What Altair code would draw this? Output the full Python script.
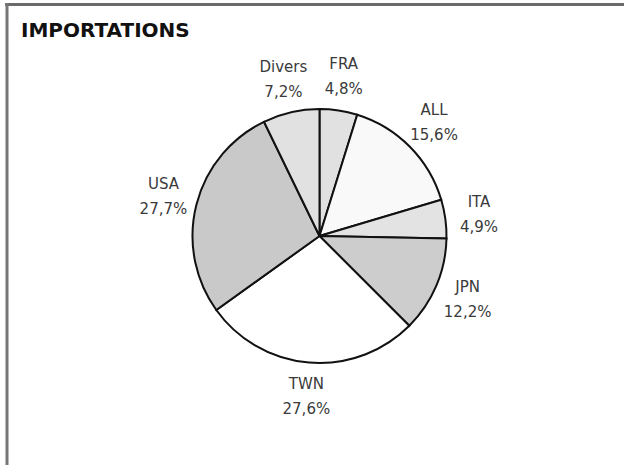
import altair as alt
import pandas as pd

countries = ["FRA", "ALL", "ITA", "JPN", "TWN", "USA", "Divers"]
shares = [4.8, 15.6, 4.9, 12.2, 27.6, 27.7, 7.2]
fills = ["#e1e1e1", "#f9f9f9", "#e3e3e3", "#cdcdcd", "#ffffff", "#c9c9c9", "#e1e1e1"]
title_text = "IMPORTATIONS"

labels = [f"{c}\n{str(v).replace('.', ',')}%" for c, v in zip(countries, shares)]
df = pd.DataFrame({"pays": countries, "part": shares,
                   "ordre": list(range(len(countries))), "label": labels})

W, H = 609, 458

base = alt.Chart(df).encode(
    theta=alt.Theta("part:Q", stack=True),
    order=alt.Order("ordre:Q"),
)
arcs = base.mark_arc(radius=127, stroke="#111111", strokeWidth=2).encode(
    color=alt.Color("pays:N", scale=alt.Scale(domain=countries, range=fills), legend=None)
)
texts = base.mark_text(radius=161, font="DejaVu Sans", fontSize=15, fill="#3a3a3a",
                       lineBreak="\n", lineHeight=25, baseline="middle", dy=-12.5,
                       align="center").encode(text="label:N")

one = alt.Chart(pd.DataFrame({"a": [0]}))
top_line = one.mark_rule(color="#6a6a6a", strokeWidth=3).encode(
    x=alt.value(-10), x2=alt.value(W), y=alt.value(-2.5))
left_line = one.mark_rule(color="#777777", strokeWidth=3).encode(
    x=alt.value(-8), y=alt.value(-4), y2=alt.value(H))
title = one.mark_text(font="DejaVu Sans", fontWeight="bold", fontSize=20,
                      fill="#111111", align="left", baseline="alphabetic").encode(
    x=alt.value(6), y=alt.value(30), text=alt.value(title_text))

chart = alt.layer(arcs, texts, top_line, left_line, title).properties(
    width=W, height=H,
    padding={"left": 15, "top": 7, "right": 0, "bottom": 0},
    autosize="none",
    background="white",
).configure_view(strokeWidth=0)

chart.save("out.html", embed_options={"renderer": "svg", "actions": False})
